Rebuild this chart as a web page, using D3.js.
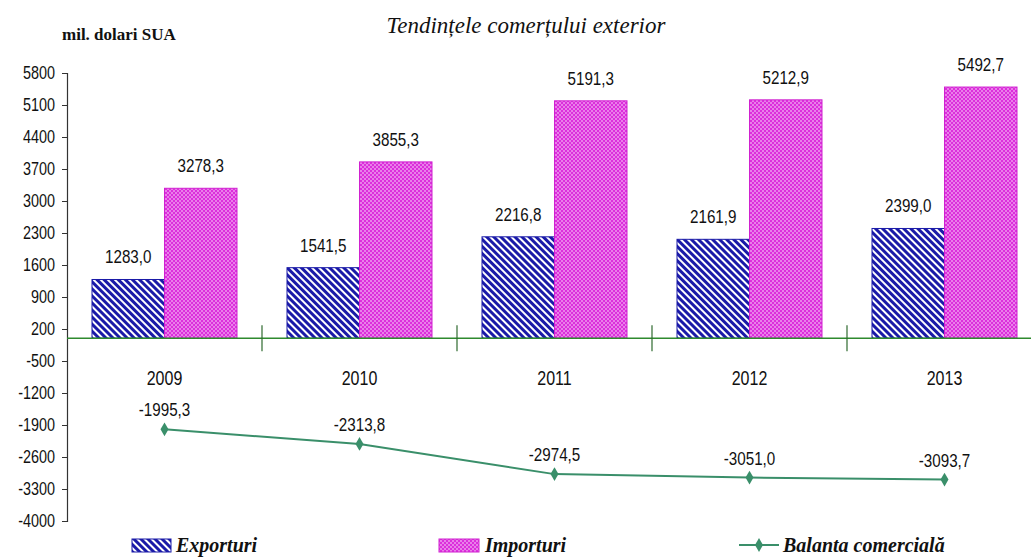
<!DOCTYPE html>
<html>
<head>
<meta charset="utf-8">
<script src="https://cdn.jsdelivr.net/npm/d3@7"></script>
<style>
  body { margin: 0; background: #fff; }
  .num { font-family: "Liberation Sans", Arial, sans-serif; fill: #111; }
</style>
</head>
<body>
<div id="chart"></div>
<script>
const years = ["2009", "2010", "2011", "2012", "2013"];
const exporturi = [1283.0, 1541.5, 2216.8, 2161.9, 2399.0];
const importuri = [3278.3, 3855.3, 5191.3, 5212.9, 5492.7];
const balanta = [-1995.3, -2313.8, -2974.5, -3051.0, -3093.7];
const yTicks = [5800, 5100, 4400, 3700, 3000, 2300, 1600, 900, 200, -500, -1200, -1900, -2600, -3300, -4000];

const width = 1031, height = 557;
const narrow = 0.8;
const fmt = v => d3.format(".1f")(v).replace(".", ",").replace("\u2212", "-");

const svg = d3.select("#chart").append("svg")
  .attr("width", width)
  .attr("height", height);

const defs = svg.append("defs");

// hatch for exports
const hatch = defs.append("pattern")
  .attr("id", "hatch")
  .attr("patternUnits", "userSpaceOnUse")
  .attr("width", 5).attr("height", 5)
  .attr("patternTransform", "rotate(-45)");
hatch.append("rect").attr("width", 5).attr("height", 5).attr("fill", "#1a1aa8");
hatch.append("rect").attr("x", 0).attr("width", 2).attr("height", 5).attr("fill", "#ffffff");

// dotted lattice for imports
const dots = defs.append("pattern")
  .attr("id", "dots")
  .attr("patternUnits", "userSpaceOnUse")
  .attr("width", 4).attr("height", 4);
dots.append("rect").attr("width", 4).attr("height", 4).attr("fill", "#dc2edc");
dots.append("circle").attr("cx", 1).attr("cy", 1).attr("r", 0.8).attr("fill", "#fbe6fb");
dots.append("circle").attr("cx", 3).attr("cy", 3).attr("r", 0.8).attr("fill", "#fbe6fb");

const x = d3.scaleBand().domain(years).range([67, 1042]);
const xs = d3.scaleBand().domain(["exp", "imp"]).range([25, x.bandwidth() - 25]);
const y = d3.scaleLinear().domain([-4000, 5800]).range([521, 73]);
const cx = d => x(d) + x.bandwidth() / 2;

// narrow number text placed at (px, py)
function numText(sel, px, py, size) {
  return sel.attr("class", "num")
    .attr("text-anchor", "middle")
    .attr("font-size", size + "px")
    .attr("transform", (d, i) => `translate(${px(d, i)},${py(d, i)}) scale(${narrow},1)`);
}

// y axis
const yAxis = svg.append("g")
  .attr("transform", "translate(67,0)")
  .call(d3.axisLeft(y).tickValues(yTicks).tickSize(5).tickPadding(7).tickFormat(d => d));
yAxis.select(".domain").attr("stroke", "#333").attr("stroke-width", 1.2);
yAxis.selectAll(".tick line").attr("stroke", "#333");
yAxis.selectAll(".tick text")
  .attr("class", "num")
  .attr("font-size", "18px")
  .attr("x", null)
  .attr("transform", `translate(-12,0) scale(${narrow},1)`)
  .attr("fill", "#111");

// bars
const groups = svg.append("g").selectAll("g")
  .data(years)
  .join("g")
  .attr("transform", d => `translate(${x(d)},0)`);

groups.append("rect")
  .attr("x", xs("exp"))
  .attr("width", xs.bandwidth())
  .attr("y", (d, i) => y(exporturi[i]))
  .attr("height", (d, i) => y(0) - y(exporturi[i]))
  .attr("fill", "url(#hatch)")
  .attr("stroke", "#1a1aa8")
  .attr("stroke-width", 1);

groups.append("rect")
  .attr("x", xs("imp"))
  .attr("width", xs.bandwidth())
  .attr("y", (d, i) => y(importuri[i]))
  .attr("height", (d, i) => y(0) - y(importuri[i]))
  .attr("fill", "url(#dots)")
  .attr("stroke", "#d020d0")
  .attr("stroke-width", 1);

numText(groups.append("text"), () => xs("exp") + xs.bandwidth() / 2, (d, i) => y(exporturi[i]) - 16, 19)
  .text((d, i) => fmt(exporturi[i]));

numText(groups.append("text"), () => xs("imp") + xs.bandwidth() / 2, (d, i) => y(importuri[i]) - 16, 19)
  .text((d, i) => fmt(importuri[i]));

// zero line with category separators
svg.append("line")
  .attr("x1", 67).attr("x2", width)
  .attr("y1", y(0)).attr("y2", y(0))
  .attr("stroke", "#2e8a2e").attr("stroke-width", 1.5);

svg.append("g").selectAll("line")
  .data(years.slice(1))
  .join("line")
  .attr("x1", d => x(d)).attr("x2", d => x(d))
  .attr("y1", y(0) - 13).attr("y2", y(0) + 13)
  .attr("stroke", "#2e6a2e").attr("stroke-width", 1.2);

// year labels
numText(svg.append("g").selectAll("text").data(years).join("text"), d => cx(d), () => y(0) + 47, 20)
  .text(d => d);

// balance line
const lineColor = "#3a8f6a";
const line = d3.line()
  .x((d, i) => cx(years[i]))
  .y(d => y(d));

svg.append("path")
  .datum(balanta)
  .attr("fill", "none")
  .attr("stroke", lineColor)
  .attr("stroke-width", 2)
  .attr("d", line);

svg.append("g").selectAll("path")
  .data(balanta)
  .join("path")
  .attr("transform", (d, i) => `translate(${cx(years[i])},${y(d)})`)
  .attr("d", d3.symbol(d3.symbolDiamond, 55))
  .attr("fill", lineColor);

numText(svg.append("g").selectAll("text").data(balanta).join("text"), (d, i) => cx(years[i]), d => y(d) - 13, 19)
  .text(d => fmt(d));

// titles
svg.append("text")
  .attr("x", 526).attr("y", 33)
  .attr("text-anchor", "middle")
  .attr("font-family", "Liberation Serif, Times New Roman, serif")
  .attr("font-style", "italic")
  .attr("font-size", "23px")
  .attr("fill", "#111")
  .text("Tendințele comerțului exterior");

svg.append("text")
  .attr("x", 62).attr("y", 40)
  .attr("font-family", "Liberation Serif, Times New Roman, serif")
  .attr("font-weight", "bold")
  .attr("font-size", "17px")
  .attr("fill", "#111")
  .text("mil. dolari SUA");

// legend
const legend = svg.append("g").attr("font-family", "Liberation Serif, Times New Roman, serif")
  .attr("font-weight", "bold").attr("font-style", "italic").attr("font-size", "20px").attr("fill", "#111");

legend.append("rect").attr("x", 132).attr("y", 539).attr("width", 39).attr("height", 13)
  .attr("fill", "url(#hatch)").attr("stroke", "#1a1aa8");
legend.append("text").attr("x", 176).attr("y", 552).text("Exporturi");

legend.append("rect").attr("x", 439).attr("y", 539).attr("width", 40).attr("height", 13)
  .attr("fill", "url(#dots)").attr("stroke", "#d020d0");
legend.append("text").attr("x", 485).attr("y", 552).text("Importuri");

legend.append("line").attr("x1", 739).attr("x2", 779).attr("y1", 545).attr("y2", 545)
  .attr("stroke", lineColor).attr("stroke-width", 2);
legend.append("path").attr("transform", "translate(759,545)")
  .attr("d", d3.symbol(d3.symbolDiamond, 55)).attr("fill", lineColor);
legend.append("text").attr("x", 783).attr("y", 552).text("Balanta comercială");
</script>
</body>
</html>
